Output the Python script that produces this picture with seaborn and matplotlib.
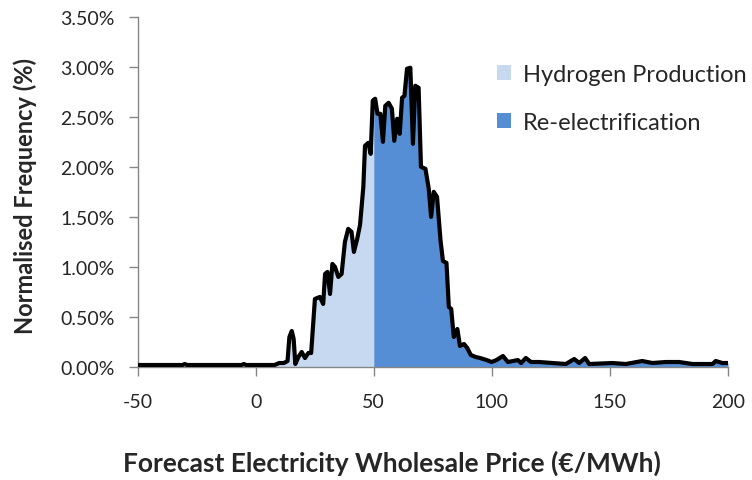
import numpy as np
import pandas as pd
import seaborn as sns
import matplotlib.pyplot as plt
from matplotlib.patches import Patch
from matplotlib.ticker import FuncFormatter

# Прочитанные с картинки точки: цена (€/MWh) и нормированная частота (%)
price = [-50, -31, -30, -29, -6, -5, -4, 8, 10, 12, 13.5, 14.3, 15.3, 16.1, 16.8,
         18.1, 19.5, 20.9, 22.3, 23.5, 25.1, 27.2, 28.6, 29.4, 30.4, 31.5,
         32.5, 33.6, 35.0, 36.4, 37.8, 39.2, 40.6, 41.6, 43.0, 44.2, 45.6,
         46.3, 47.7, 48.7, 49.6, 50.0, 50.6, 51.6, 52.8, 53.9, 54.9, 56.3,
         57.7, 58.7, 59.9, 61.0, 62.0, 63.0, 64.1, 65.5, 66.6, 67.6, 69.0,
         70.0, 71.9, 73.3, 74.3, 75.4, 76.8, 78.3, 79.3, 80.8, 81.8, 82.8,
         83.9, 85.4, 86.5, 88.2, 89.6, 91.1, 93.2, 95.0, 97.8, 99.9, 102.0,
         104.7, 106.8, 109.0, 111.0, 112.4, 114.4, 116.6, 120.0, 125.7,
         131.3, 134.9, 137.0, 139.5, 141.2, 151.0, 156.7, 163.7, 168.0,
         173.6, 179.3, 185.0, 193.4, 194.8, 197.6, 200]
freq = [0.02, 0.02, 0.03, 0.02, 0.02, 0.03, 0.02, 0.02, 0.04, 0.04, 0.06, 0.30,
        0.36, 0.28, 0.03, 0.10, 0.15, 0.09, 0.14, 0.14, 0.68, 0.70, 0.63,
        0.93, 0.95, 0.73, 1.03, 1.00, 0.90, 0.93, 1.25, 1.38, 1.35, 1.15,
        1.28, 1.42, 1.80, 2.21, 2.24, 2.13, 2.66, 2.67, 2.68, 2.53, 2.53,
        2.25, 2.61, 2.64, 2.58, 2.26, 2.48, 2.33, 2.69, 2.71, 2.98, 2.99,
        2.23, 2.81, 2.79, 2.00, 1.98, 1.78, 1.50, 1.75, 1.70, 1.26, 1.06,
        1.04, 0.60, 0.58, 0.30, 0.38, 0.21, 0.23, 0.19, 0.12, 0.10, 0.09,
        0.07, 0.05, 0.07, 0.11, 0.05, 0.06, 0.07, 0.04, 0.09, 0.05, 0.05,
        0.04, 0.03, 0.08, 0.04, 0.09, 0.03, 0.04, 0.03, 0.06, 0.04, 0.05,
        0.05, 0.03, 0.03, 0.06, 0.04, 0.04]
split_price = 50
legend_labels = ["Hydrogen Production", "Re-electrification"]

df = pd.DataFrame({"price": price, "freq": freq})

sns.set_style("white")
plt.rcParams["font.family"] = ["Lato", "DejaVu Sans"]

light = "#C6D9F1"
dark = "#558ED5"
axis_grey = "#868686"

fig = plt.figure(figsize=(7.52, 4.81), dpi=100)
ax = fig.add_axes([0.1829, 0.2349, 0.7852, 0.7283])

x = df["price"].to_numpy()
y = df["freq"].to_numpy()
ax.fill_between(x, 0, y, where=x <= split_price, color=light, lw=0, zorder=1)
ax.fill_between(x, 0, y, where=x >= split_price, color=dark, lw=0, zorder=1)

sns.lineplot(data=df, x="price", y="freq", color="black", linewidth=3.0,
             sort=False, ax=ax, zorder=3, solid_joinstyle="round",
             solid_capstyle="round")

ax.set_xlim(-50, 200)
ax.set_ylim(0, 3.5)
ax.set_xticks(np.arange(-50, 201, 50))
ax.set_yticks(np.arange(0, 3.51, 0.5))
ax.xaxis.set_major_formatter(FuncFormatter(lambda v, p: f"{v:.0f}"))
ax.yaxis.set_major_formatter(FuncFormatter(lambda v, p: f"{v:.2f}%"))

for side in ["top", "right"]:
    ax.spines[side].set_visible(False)
for side in ["left", "bottom"]:
    ax.spines[side].set_color(axis_grey)
    ax.spines[side].set_linewidth(1.0)
ax.tick_params(axis="both", which="major", direction="out", length=6.5,
               width=1.0, color=axis_grey, labelsize=14,
               left=True, bottom=True)
ax.tick_params(axis="x", pad=12)
ax.tick_params(axis="y", pad=10)

ax.set_xlabel("Forecast Electricity Wholesale Price (€/MWh)", fontsize=19,
              fontweight="bold")
ax.xaxis.set_label_coords(0.431, -0.235)
ax.set_ylabel("Normalised Frequency (%)", fontsize=17, fontweight="bold")
ax.yaxis.set_label_coords(-0.17, 0.49)

handles = [Patch(facecolor=light, edgecolor="none"),
           Patch(facecolor=dark, edgecolor="none")]
fig.legend(handles, legend_labels, loc="upper left",
           bbox_to_anchor=(497 / 752, 1 - 65 / 481), frameon=False,
           fontsize=17, handlelength=0.6, handleheight=0.6,
           handletextpad=0.5, labelspacing=1.15, borderpad=0, borderaxespad=0)

fig.savefig("out.png", dpi=100)
